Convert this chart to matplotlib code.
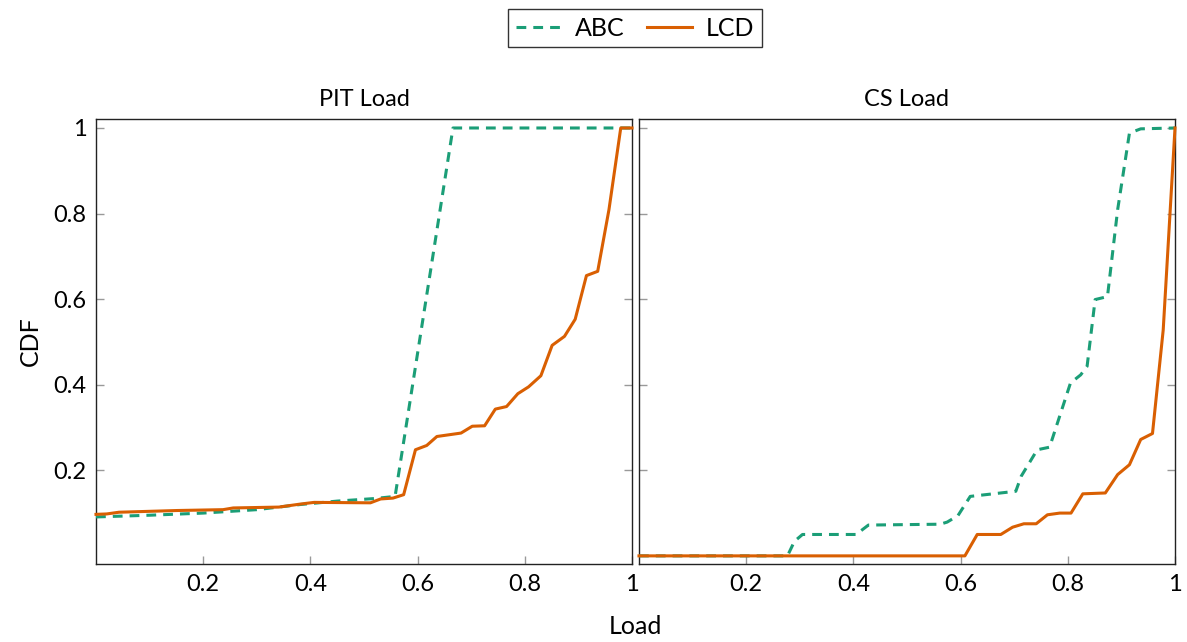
import matplotlib
matplotlib.use("Agg")
import matplotlib.pyplot as plt

plt.rcParams['font.family'] = ['Lato', 'DejaVu Sans']

# PIT Load panel
pit_abc_x = [0.0, 0.10, 0.20, 0.30, 0.381, 0.45, 0.52, 0.558, 0.666, 1.0]
pit_abc_y = [0.091, 0.095, 0.100, 0.108, 0.120, 0.128, 0.134, 0.139, 1.0, 1.0]
pit_lcd_x = [0.0, 0.02, 0.043, 0.151, 0.237, 0.256, 0.341, 0.381, 0.407, 0.512,
             0.531, 0.554, 0.574, 0.596, 0.617, 0.636, 0.681, 0.702, 0.725, 0.745,
             0.766, 0.787, 0.807, 0.830, 0.851, 0.874, 0.894, 0.915, 0.936, 0.957,
             0.979, 1.0]
pit_lcd_y = [0.097, 0.098, 0.102, 0.106, 0.108, 0.112, 0.114, 0.121, 0.125, 0.124,
             0.133, 0.135, 0.143, 0.248, 0.258, 0.279, 0.287, 0.303, 0.304, 0.343,
             0.349, 0.379, 0.395, 0.421, 0.492, 0.513, 0.553, 0.655, 0.665, 0.809,
             1.0, 1.0]

# CS Load panel
cs_abc_x = [0.0, 0.277, 0.290, 0.305, 0.405, 0.428, 0.562, 0.575, 0.595, 0.618,
            0.703, 0.713, 0.743, 0.766, 0.805, 0.824, 0.836, 0.851, 0.874, 0.893,
            0.915, 0.936, 1.0]
cs_abc_y = [0.0, 0.0, 0.034, 0.05, 0.05, 0.072, 0.074, 0.079, 0.094, 0.139,
            0.151, 0.186, 0.248, 0.254, 0.404, 0.423, 0.443, 0.599, 0.606, 0.809,
            0.988, 0.998, 1.0]
cs_lcd_x = [0.0, 0.608, 0.631, 0.675, 0.697, 0.718, 0.741, 0.762, 0.785, 0.806,
            0.828, 0.870, 0.893, 0.915, 0.936, 0.958, 0.978, 1.0]
cs_lcd_y = [0.0, 0.0, 0.05, 0.05, 0.067, 0.075, 0.075, 0.096, 0.100, 0.100,
            0.145, 0.147, 0.190, 0.213, 0.272, 0.286, 0.528, 1.0]

titles = ["PIT Load", "CS Load"]
series_names = ["ABC", "LCD"]
xticks = [0.2, 0.4, 0.6, 0.8, 1.0]
xtick_labels = ["0.2", "0.4", "0.6", "0.8", "1"]
yticks = [0.2, 0.4, 0.6, 0.8, 1.0]
ytick_labels = ["0.2", "0.4", "0.6", "0.8", "1"]

green = "#1b9e77"
orange = "#d95f02"

fig = plt.figure(figsize=(11.87, 6.42), dpi=100)
ax1 = fig.add_axes([96/1187, 78/642, 536/1187, 445/642])
ax2 = fig.add_axes([639/1187, 78/642, 536/1187, 445/642])

data = [(pit_abc_x, pit_abc_y, pit_lcd_x, pit_lcd_y),
        (cs_abc_x, cs_abc_y, cs_lcd_x, cs_lcd_y)]

handles = None
for i, (ax, (ax_x, ax_y, lx, ly)) in enumerate(zip([ax1, ax2], data)):
    h1, = ax.plot(ax_x, ax_y, color=green, lw=2.2, dashes=(3.2, 2.3),
                  label=series_names[0], clip_on=False, zorder=3)
    h2, = ax.plot(lx, ly, color=orange, lw=2.2, label=series_names[1],
                  clip_on=False, zorder=4)
    handles = [h1, h2]
    ax.set_xlim(0, 1)
    ax.set_ylim(-0.019, 1.021)
    ax.set_xticks(xticks)
    ax.set_xticklabels(xtick_labels)
    ax.set_yticks(yticks)
    if i == 0:
        ax.set_yticklabels(ytick_labels)
    else:
        ax.set_yticklabels([])
    ax.tick_params(axis='both', direction='in', length=6, width=1,
                   color='#999999', labelsize=17, pad=7)
    ax.tick_params(axis='y', right=True, left=True)
    ax.tick_params(axis='x', top=False, bottom=True)
    for s in ax.spines.values():
        s.set_linewidth(1.0)
        s.set_color('#222222')
    ax.set_title(titles[i], fontsize=17, pad=9)

ax1.set_ylabel("CDF", fontsize=18, labelpad=8)
fig.text(635/1187, 1 - 626/642, "Load", ha='center', va='center', fontsize=18)

leg = fig.legend(handles, series_names, loc='center', bbox_to_anchor=(635/1187, 1 - 28/642),
                 ncol=2, fontsize=18, frameon=True, fancybox=False, edgecolor='black',
                 handlelength=1.8, columnspacing=0.9, handletextpad=0.55,
                 borderpad=0.3, borderaxespad=0)
leg.get_frame().set_linewidth(1.0)

fig.savefig("out.png", dpi=100)
